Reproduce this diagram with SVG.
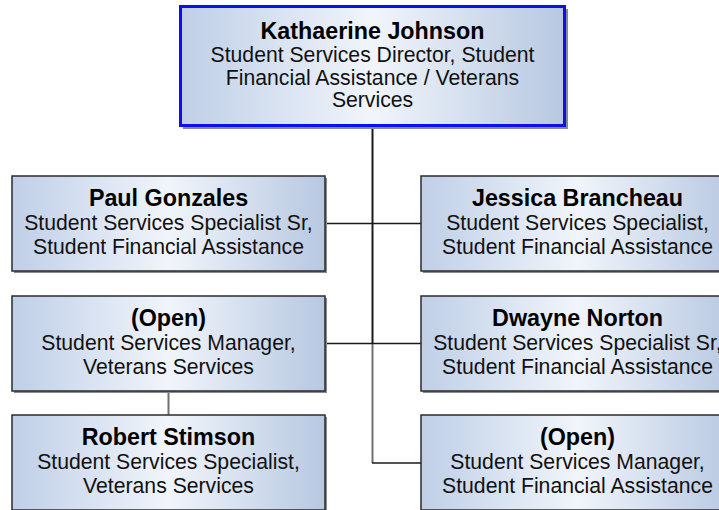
<svg xmlns="http://www.w3.org/2000/svg" width="719" height="510" viewBox="0 0 719 510">
<defs>
<linearGradient id="g" x1="0" y1="0" x2="1" y2="0">
<stop offset="0" stop-color="#bfcfe7"/>
<stop offset="0.5" stop-color="#f1f5fb"/>
<stop offset="1" stop-color="#b7c8e1"/>
</linearGradient>
</defs>
<style>
.box{fill:url(#g);stroke:#2b2b2b;stroke-width:1.5}
.top{fill:url(#g);stroke:#0a10f0;stroke-width:3}
.sh{fill:#8a8a8a}
.n{font-family:"Liberation Sans",Arial,sans-serif;font-weight:bold;font-size:23.3px;fill:#000;text-anchor:middle}
.t{font-family:"Liberation Sans",Arial,sans-serif;font-size:21.2px;fill:#111;text-anchor:middle}
.dk{stroke:#1a1a1a;stroke-width:1.5;fill:none}
.gr{stroke:#707070;stroke-width:2;fill:none}
</style>
<g id="connectors">
<line class="dk" x1="372.5" y1="126" x2="372.5" y2="343" style="stroke-width:2"/>
<line class="gr" x1="372.5" y1="343" x2="372.5" y2="463"/>
<line class="dk" x1="325" y1="223.5" x2="421" y2="223.5"/>
<line class="dk" x1="325" y1="343.5" x2="421" y2="343.5"/>
<line class="dk" x1="372" y1="463" x2="421" y2="463"/>
<line class="gr" x1="168.5" y1="391" x2="168.5" y2="415"/>
</g>
<g id="n_kj">
<rect class="sh" x="183" y="9" width="385" height="120"/>
<rect class="top" x="180.5" y="6.5" width="384" height="119"/>
<text class="n" x="372.5" y="39">Kathaerine Johnson</text>
<text class="t" x="372.5" y="62">Student Services Director, Student</text>
<text class="t" x="372.5" y="85">Financial Assistance / Veterans</text>
<text class="t" x="372.5" y="107">Services</text>
</g>
<g id="n_pg">
<rect class="sh" x="14" y="178" width="313" height="95"/>
<rect class="box" x="12" y="176" width="313" height="95"/>
<text class="n" x="168.5" y="206">Paul Gonzales</text>
<text class="t" x="168.5" y="230">Student Services Specialist Sr,</text>
<text class="t" x="168.5" y="254">Student Financial Assistance</text>
</g>
<g id="n_jb">
<rect class="sh" x="423" y="178" width="313" height="95"/>
<rect class="box" x="421" y="176" width="313" height="95"/>
<text class="n" x="577.5" y="206">Jessica Brancheau</text>
<text class="t" x="577.5" y="230">Student Services Specialist,</text>
<text class="t" x="577.5" y="254">Student Financial Assistance</text>
</g>
<g id="n_ov">
<rect class="sh" x="14" y="298" width="313" height="95"/>
<rect class="box" x="12" y="296" width="313" height="95"/>
<text class="n" x="168.5" y="326">(Open)</text>
<text class="t" x="168.5" y="350">Student Services Manager,</text>
<text class="t" x="168.5" y="374">Veterans Services</text>
</g>
<g id="n_dn">
<rect class="sh" x="423" y="298" width="313" height="95"/>
<rect class="box" x="421" y="296" width="313" height="95"/>
<text class="n" x="577.5" y="326">Dwayne Norton</text>
<text class="t" x="577.5" y="350">Student Services Specialist Sr,</text>
<text class="t" x="577.5" y="374">Student Financial Assistance</text>
</g>
<g id="n_rs">
<rect class="sh" x="14" y="417" width="313" height="95"/>
<rect class="box" x="12" y="415" width="313" height="95"/>
<text class="n" x="168.5" y="445">Robert Stimson</text>
<text class="t" x="168.5" y="469">Student Services Specialist,</text>
<text class="t" x="168.5" y="493">Veterans Services</text>
</g>
<g id="n_of">
<rect class="sh" x="423" y="417" width="313" height="95"/>
<rect class="box" x="421" y="415" width="313" height="95"/>
<text class="n" x="577.5" y="445">(Open)</text>
<text class="t" x="577.5" y="469">Student Services Manager,</text>
<text class="t" x="577.5" y="493">Student Financial Assistance</text>
</g>
</svg>
